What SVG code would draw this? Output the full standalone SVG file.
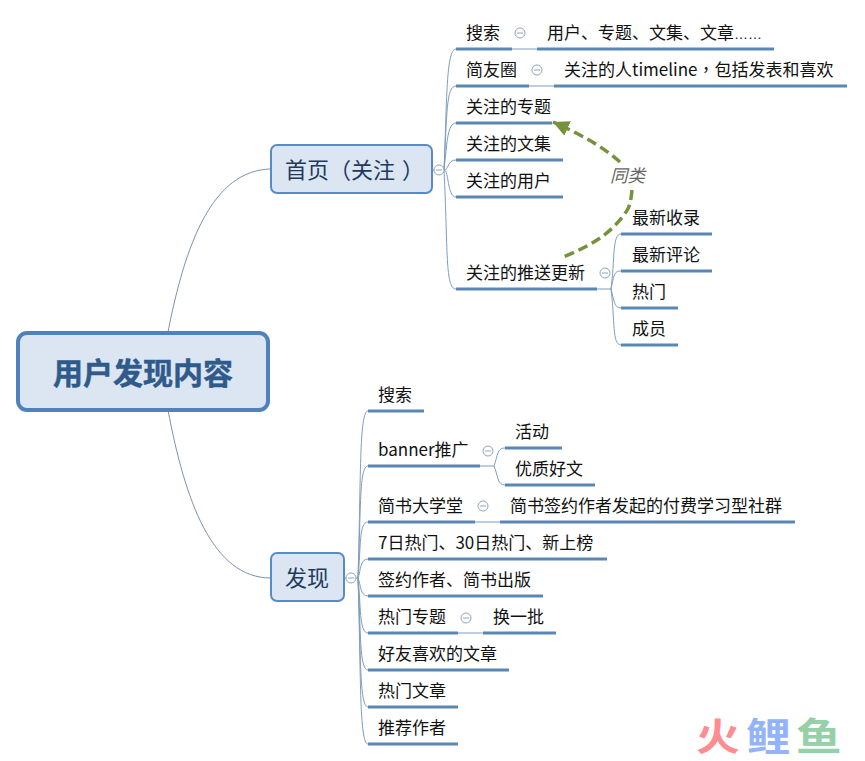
<svg xmlns="http://www.w3.org/2000/svg" width="865" height="761" viewBox="0 0 865 761">
<style>
text{font-family:"Noto Sans CJK SC","Noto Sans",sans-serif;fill:#111}
.t{font-size:17px}
.u{stroke:#5b87b5;stroke-width:3;fill:none}
.c{stroke:#7f9dbd;stroke-width:1;fill:none}
.r{stroke:#7d93ab;stroke-width:1;fill:none}
.box{fill:#dce6f2;stroke:#5a8ac6;stroke-width:2}
.m{font-size:22px;fill:#1f3a5f}
.oc{fill:#fff;stroke:#8fa5bb;stroke-width:1}
.om{stroke:#8fa5bb;stroke-width:1;fill:none}
.d{stroke:#76923c;stroke-width:3.5;stroke-dasharray:10 5;fill:none}
.w{font-size:38px;font-weight:700}
.tc{font-family:"Noto Sans CJK TC","Noto Sans",sans-serif}
.dots{font-family:"Liberation Sans",sans-serif;font-size:14px}
</style>
<defs>
<marker id="ah" markerUnits="userSpaceOnUse" markerWidth="20" markerHeight="18" refX="16" refY="9" orient="auto">
<path d="M0 1L16 9L0 17Z" fill="#76923c"/>
</marker>
<g id="col"><circle class="oc" r="5"/><path class="om" d="M-3 0H3"/></g>
</defs>
<rect width="865" height="761" fill="#fff"/>
<g id="connectors">
<path class="r" d="M168 332C185 245 212 170 271 169"/>
<path class="r" d="M168 410C185 500 212 578 271 578"/>
<path class="c" d="M432 170H444"/>
<path class="c" d="M444 170C447 100 446 49 456 49"/>
<path class="c" d="M444 170C447 115 446 86 456 86"/>
<path class="c" d="M444 170C447 145 447 123 456 123"/>
<path class="c" d="M444 170C449 170 447 160 456 160"/>
<path class="c" d="M444 170C449 170 447 197 456 197"/>
<path class="c" d="M444 170C448 250 445 289 456 289"/>
<path class="c" d="M512 49H537"/>
<path class="c" d="M529 86H554"/>
<path class="c" d="M597 289H611"/>
<path class="c" d="M611 289C615 260 612 234 621 234"/>
<path class="c" d="M611 289C614 275 614 271 621 271"/>
<path class="c" d="M611 289C614 300 614 308 621 308"/>
<path class="c" d="M611 289C615 320 612 345 621 345"/>
<path class="c" d="M344 578H358"/>
<path class="c" d="M358 578C361 480 359 411 368 411"/>
<path class="c" d="M358 578C361 510 359 466 368 466"/>
<path class="c" d="M358 578C361 545 359 522 368 522"/>
<path class="c" d="M358 578C361 570 360 559 368 559"/>
<path class="c" d="M358 578C361 585 360 596 368 596"/>
<path class="c" d="M358 578C361 605 359 633 368 633"/>
<path class="c" d="M358 578C361 630 359 670 368 670"/>
<path class="c" d="M358 578C361 650 359 707 368 707"/>
<path class="c" d="M358 578C361 670 359 744 368 744"/>
<path class="c" d="M480 466H494"/>
<path class="c" d="M494 466C498 455 497 448 505 448"/>
<path class="c" d="M494 466C498 475 497 485 505 485"/>
<path class="c" d="M475 522H500"/>
<path class="c" d="M458 633H483"/>
<path class="d" d="M632 190C631 200 630 207 626 212C610 235 590 246 563 257"/>
<path class="d" d="M620 162C602 146 580 134 553 122" marker-end="url(#ah)"/>
</g>
<g id="root"><rect x="18" y="333" width="250" height="77" rx="9" fill="#dce6f2" stroke="#4f81bd" stroke-width="4"/>
<text x="143" y="384" text-anchor="middle" font-size="30" font-weight="700" style="fill:#2f5a8c;stroke:#2f5a8c;stroke-width:.5">用户发现内容</text></g>
<g id="shouye"><rect class="box" x="271" y="145" width="161" height="48" rx="6"/><text class="m" x="285" y="178">首页（关注<tspan dx="7">）</tspan></text></g>
<g id="faxian"><rect class="box" x="271" y="553" width="73" height="48" rx="6"/><text class="m" x="285" y="586">发现</text></g>
<g id="n1"><text class="t" x="466" y="39">搜索</text><path class="u" d="M456 49H512"/></g>
<g id="n1a"><text class="t" x="547" y="39">用户、专题、文集、文章<tspan class="dots">……</tspan></text><path class="u" d="M537 49H774"/></g>
<g id="n2"><text class="t" x="466" y="76">简友圈</text><path class="u" d="M456 86H529"/></g>
<g id="n2a"><text class="t" x="564" y="76">关注的人timeline<tspan class="tc">，</tspan>包括发表和喜欢</text><path class="u" d="M554 86H847"/></g>
<g id="n3"><text class="t" x="466" y="113">关注的专题</text><path class="u" d="M456 123H552"/></g>
<g id="n4"><text class="t" x="466" y="150">关注的文集</text><path class="u" d="M456 160H563"/></g>
<g id="n5"><text class="t" x="466" y="187">关注的用户</text><path class="u" d="M456 197H563"/></g>
<g id="n6"><text class="t" x="466" y="279">关注的推送更新</text><path class="u" d="M456 289H597"/></g>
<g id="n6a"><text class="t" x="632" y="224">最新收录</text><path class="u" d="M621 234H712"/></g>
<g id="n6b"><text class="t" x="632" y="261">最新评论</text><path class="u" d="M621 271H712"/></g>
<g id="n6c"><text class="t" x="632" y="298">热门</text><path class="u" d="M621 308H678"/></g>
<g id="n6d"><text class="t" x="632" y="335">成员</text><path class="u" d="M621 345H678"/></g>
<g id="m1"><text class="t" x="378" y="401">搜索</text><path class="u" d="M368 411H424"/></g>
<g id="m2"><text class="t" x="378" y="456">banner推广</text><path class="u" d="M368 466H480"/></g>
<g id="m2a"><text class="t" x="515" y="438">活动</text><path class="u" d="M505 448H562"/></g>
<g id="m2b"><text class="t" x="515" y="475">优质好文</text><path class="u" d="M505 485H595"/></g>
<g id="m3"><text class="t" x="378" y="512">简书大学堂</text><path class="u" d="M368 522H475"/></g>
<g id="m3a"><text class="t" x="510" y="512">简书签约作者发起的付费学习型社群</text><path class="u" d="M500 522H795"/></g>
<g id="m4"><text class="t" x="378" y="549">7日热门、30日热门、新上榜</text><path class="u" d="M368 559H607"/></g>
<g id="m5"><text class="t" x="378" y="586">签约作者、简书出版</text><path class="u" d="M368 596H543"/></g>
<g id="m6"><text class="t" x="378" y="623">热门专题</text><path class="u" d="M368 633H458"/></g>
<g id="m6a"><text class="t" x="493" y="623">换一批</text><path class="u" d="M483 633H556"/></g>
<g id="m7"><text class="t" x="378" y="660">好友喜欢的文章</text><path class="u" d="M368 670H509"/></g>
<g id="m8"><text class="t" x="378" y="697">热门文章</text><path class="u" d="M368 707H458"/></g>
<g id="m9"><text class="t" x="378" y="734">推荐作者</text><path class="u" d="M368 744H458"/></g>
<g id="toggles">
<use href="#col" x="520" y="33"/><use href="#col" x="537" y="70"/><use href="#col" x="439" y="170"/><use href="#col" x="605" y="273"/>
<use href="#col" x="351" y="578"/><use href="#col" x="488" y="451"/><use href="#col" x="483" y="506"/><use href="#col" x="466" y="618"/>
</g>
<text x="610" y="182" font-size="17.5" font-style="italic" style="fill:#666">同类</text>
<g id="watermark">
<text class="w" transform="translate(696 750) scale(1.15 1)" style="fill:#ff8c90">火</text>
<text class="w" transform="translate(746 750) scale(1.17 1)" style="fill:#93b4fb">鲤</text>
<text class="w" transform="translate(796 750) scale(1.2 1)" style="fill:#95d0a8">鱼</text>
</g>
</svg>
